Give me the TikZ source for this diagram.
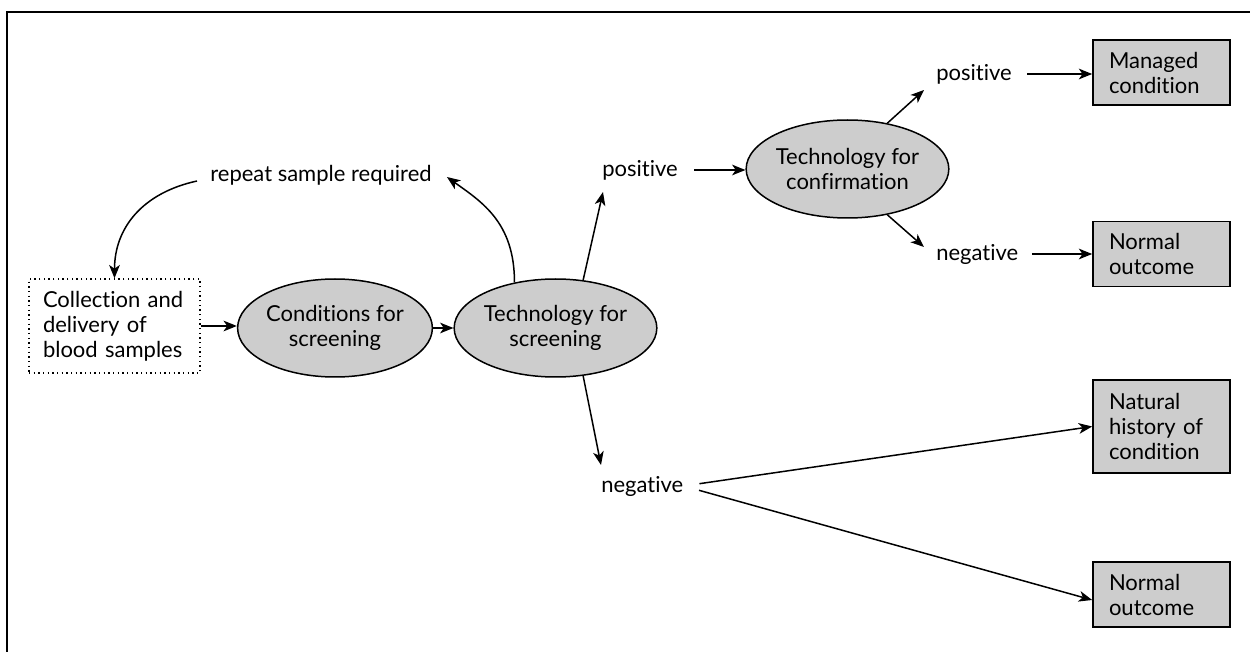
\documentclass[tikz,border=0pt]{standalone}
\usepackage{fontspec}
\setmainfont[RawFeature={-liga,-dlig,-calt}]{Lato}
\usetikzlibrary{arrows.meta,shapes.geometric,calc}
\definecolor{boxgray}{RGB}{205,205,205}
\begin{document}
\begin{tikzpicture}[x=0.6pt,y=-0.6pt,
  font=\fontsize{13.2}{15}\selectfont,
  ell/.style={ellipse, draw, fill=boxgray, line width=0.9pt, minimum width=105pt, minimum height=58.8pt, inner sep=0pt, align=center},
  outbox/.style={rectangle, draw, fill=boxgray, line width=1pt, inner xsep=9.6pt, inner ysep=0pt, text width=63pt, align=left},
  collbox/.style={rectangle, draw, dotted, line width=0.8pt, inner xsep=8.4pt, inner ysep=0pt, text width=85.8pt, minimum height=56.4pt, align=left},
  lbl/.style={inner sep=0pt, anchor=west},
  arr/.style={-{Stealth[length=8pt,width=6.4pt,inset=2.2pt]}, line width=0.9pt}
]
\useasboundingbox (0,0) rectangle (1250,652);
\draw[line width=1.2pt] (7,652) -- (7,12) -- (1250,12);

\node[collbox] (coll) at (114.5,326) {Collection and\\delivery of\\blood samples};
\node[ell] (cond) at (335,328) {Conditions for\\screening};
\node[ell] (ts) at (555.5,328) {Technology for\\screening};
\node[ell] (conf) at (847.5,169) {Technology for\\confirmation};

\node[outbox, minimum height=39pt] (man) at (1161.5,72.5) {Managed\\condition};
\node[outbox, minimum height=39pt] (nor1) at (1161.5,254) {Normal\\outcome};
\node[outbox, minimum height=55.8pt] (nat) at (1161.5,426.5) {Natural\\history of\\condition};
\node[outbox, minimum height=39pt] (nor2) at (1161.5,594.5) {Normal\\outcome};

\node[lbl] (rep) at (210,175) {repeat sample required};
\node[lbl] (pos1) at (602,170) {positive};
\node[lbl] (neg1) at (601,486) {negative};
\node[lbl] (pos2) at (936,74) {positive};
\node[lbl] (neg2) at (936,254) {negative};

\draw[arr] (coll.east) -- (coll.east -| cond.west);
\draw[arr] (cond.east) -- (ts.west);
\draw[arr] (ts.132) .. controls +(0,-60) and +(35,25) .. ($(rep.east)+(15,2)$);
\draw[arr] ($(rep.west)+(-13,6)$) .. controls +(-55,12) and +(0,-50) .. (coll.north);
\draw[arr] (ts.60) -- ($(pos1.west)+(1,22)$);
\draw[arr] (ts.-60) -- ($(neg1.west)+(0,-21)$);
\draw[arr, shorten <=9.6pt] (pos1.east) -- (pos1.east -| conf.west);
\draw[arr] (conf.49) -- ($(pos2.west)+(-12,16)$);
\draw[arr] (conf.-49) -- ($(neg2.west)+(-12,-7)$);
\draw[arr, shorten <=9pt] (pos2.east) -- (pos2.east -| man.west);
\draw[arr, shorten <=8pt] (neg2.east) -- (neg2.east -| nor1.west);
\draw[arr, shorten <=9.6pt] (neg1.east) -- (nat.west);
\draw[arr, shorten <=9.6pt] (neg1.east) -- ($(nor2.west)+(0,5.5)$);
\end{tikzpicture}
\end{document}
